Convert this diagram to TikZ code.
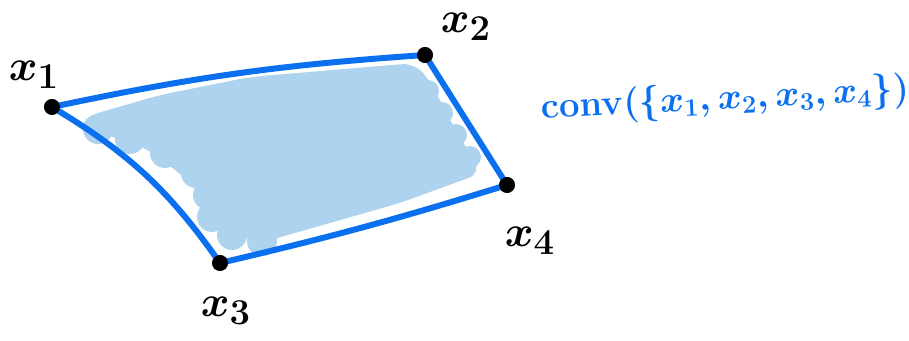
\documentclass[tikz,border=0pt]{standalone}
\usepackage{amsmath,amssymb}
\colorlet{hullblue}{rgb,255:red,10;green,112;blue,240}
\colorlet{hullfill}{rgb,255:red,174;green,211;blue,239}
\tikzset{
  vtx/.style={circle,fill=black,inner sep=0pt,minimum size=9pt},
  edge/.style={draw=hullblue,line width=3.4pt,line cap=round},
  vlbl/.style={font=\fontsize{28}{32}\selectfont\boldmath},
  convlbl/.style={text=hullblue,font=\fontsize{22}{26}\selectfont\boldmath}
}

\begin{document}
\begin{tikzpicture}[x=0.02cm,y=0.02cm]
  \useasboundingbox (0,0) rectangle (909,341);
  % shaded interior with scalloped rim
  \fill[hullfill,rounded corners=8pt] (84,224) -- (160,246) -- (250,264) -- (416,278) -- (432,256)
    -- (456,210) -- (482,168) -- (400,138) -- (260,98) -- (215,116) -- (200,151) -- (150,191)
    -- (90,212) -- cycle;
  \foreach \cx/\cy in {98/212,130/202,165/188,196/168,208/146,212/124,232/106,262/100}
    \fill[hullfill] (\cx,\cy) circle (15);
  \foreach \cx/\cy in {428/250,442/228,456/206,470/184}
    \fill[hullfill] (\cx,\cy) circle (11);
  \node[vtx] (p1) at (52,234) {};
  \node[vtx] (p2) at (425,286) {};
  \node[vtx] (p3) at (220,78) {};
  \node[vtx] (p4) at (507,156) {};
  \draw[edge] (p1.center) to[bend left=4] (p2.center);
  \draw[edge] (p2.center) -- (p4.center);
  \draw[edge] (p4.center) to[bend left=2] (p3.center);
  \draw[edge] (p3.center) to[bend right=12] (p1.center);
  \node[vtx] at (p1) {}; \node[vtx] at (p2) {};
  \node[vtx] at (p3) {}; \node[vtx] at (p4) {};
  \node[vlbl] (l1) at (34,266) {$x_1$};
  \node[vlbl] (l2) at (466,314) {$x_2$};
  \node[vlbl] (l3) at (226,30) {$x_3$};
  \node[vlbl] (l4) at (530,100) {$x_4$};
  \node[convlbl,rotate=3] (cv) at (725,241) {$\mathrm{conv}(\{x_1,x_2,x_3,x_4\})$};
\end{tikzpicture}
\end{document}
